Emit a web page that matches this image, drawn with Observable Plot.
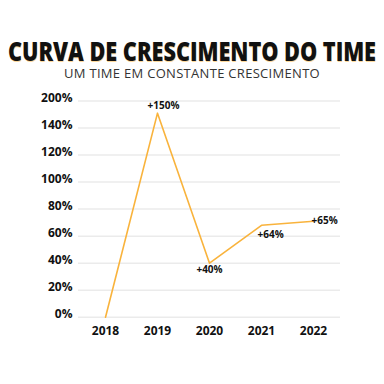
<!DOCTYPE html>
<html><head><meta charset="utf-8">
<script src="https://cdn.jsdelivr.net/npm/d3@7"></script>
<script src="https://cdn.jsdelivr.net/npm/@observablehq/plot@0.6"></script>
<style>
body{margin:0;background:#fff;font-family:"Open Sans",sans-serif;}
#wrap{width:384px;height:384px;position:relative;overflow:hidden;}
#tspan{position:absolute;top:40px;left:192px;line-height:22px;white-space:nowrap;font-weight:800;font-size:26px;color:#111;transform-origin:center;text-shadow:0.6px 0.6px 0 rgba(249,179,60,0.5);}
#sub{position:absolute;top:66px;left:0;width:384px;text-align:center;font-weight:400;font-size:13px;letter-spacing:0.3px;color:#333;line-height:15px;white-space:nowrap;}
#chart{position:absolute;top:85px;left:0;}
</style></head>
<body><div id="wrap">
<div id="tspan">CURVA DE CRESCIMENTO DO TIME</div>
<div id="sub">UM TIME EM CONSTANTE CRESCIMENTO</div>
<div id="chart"></div>
</div>
<script>
const years = ["2018","2019","2020","2021","2022"];
const values = [0, 151, 40, 68, 71];
const pointLabels = ["", "+150%", "+40%", "+64%", "+65%"];
const yTicks = [0,20,40,60,80,100,120,140,160];
const yTickLabels = ["0%","20%","40%","60%","80%","100%","120%","140%","200%"];

// fit title to reference width, centered
const ts = document.getElementById("tspan");
const w = ts.getBoundingClientRect().width;
ts.style.transform = `translateX(-50%) scaleX(${368 / w})`;

const data = years.map((y,i)=>({year:y, value:values[i], label:pointLabels[i]}));
const labelPos = [null, {dx:6,dy:-7,anchor:"middle"}, {dx:0,dy:7,anchor:"middle"}, {dx:-4,dy:9,anchor:"start"}, {dx:-2,dy:0,anchor:"start"}];

const chart = Plot.plot({
  width:384, height:260,
  marginTop:15.5, marginBottom:28.3, marginLeft:78, marginRight:44,
  style:{fontFamily:"'Open Sans',sans-serif", background:"transparent"},
  x:{type:"point", domain:years, padding:0.5, label:null},
  y:{domain:[0,160], label:null},
  marks:[
    Plot.gridY(yTicks,{stroke:"#ebebeb", strokeOpacity:1, strokeWidth:1.5}),
    Plot.axisY(yTicks,{tickSize:0, tickPadding:6, dy:-3, tickFormat:(d)=>yTickLabels[yTicks.indexOf(d)], fontSize:12, fontWeight:700, fill:"#111", label:null}),
    Plot.axisX({tickSize:0, tickPadding:9, fontSize:12, fontWeight:700, fill:"#111", label:null}),
    Plot.line(data,{x:"year", y:"value", stroke:"#f9b33c", strokeWidth:1.6}),
    ...data.map((d,i)=> labelPos[i] ? Plot.text([d],{x:"year", y:"value", text:"label", dx:labelPos[i].dx, dy:labelPos[i].dy, textAnchor:labelPos[i].anchor, fontSize:10, fontWeight:700, fill:"#111"}) : null).filter(Boolean)
  ]
});
document.getElementById("chart").appendChild(chart);
</script>
</body></html>
